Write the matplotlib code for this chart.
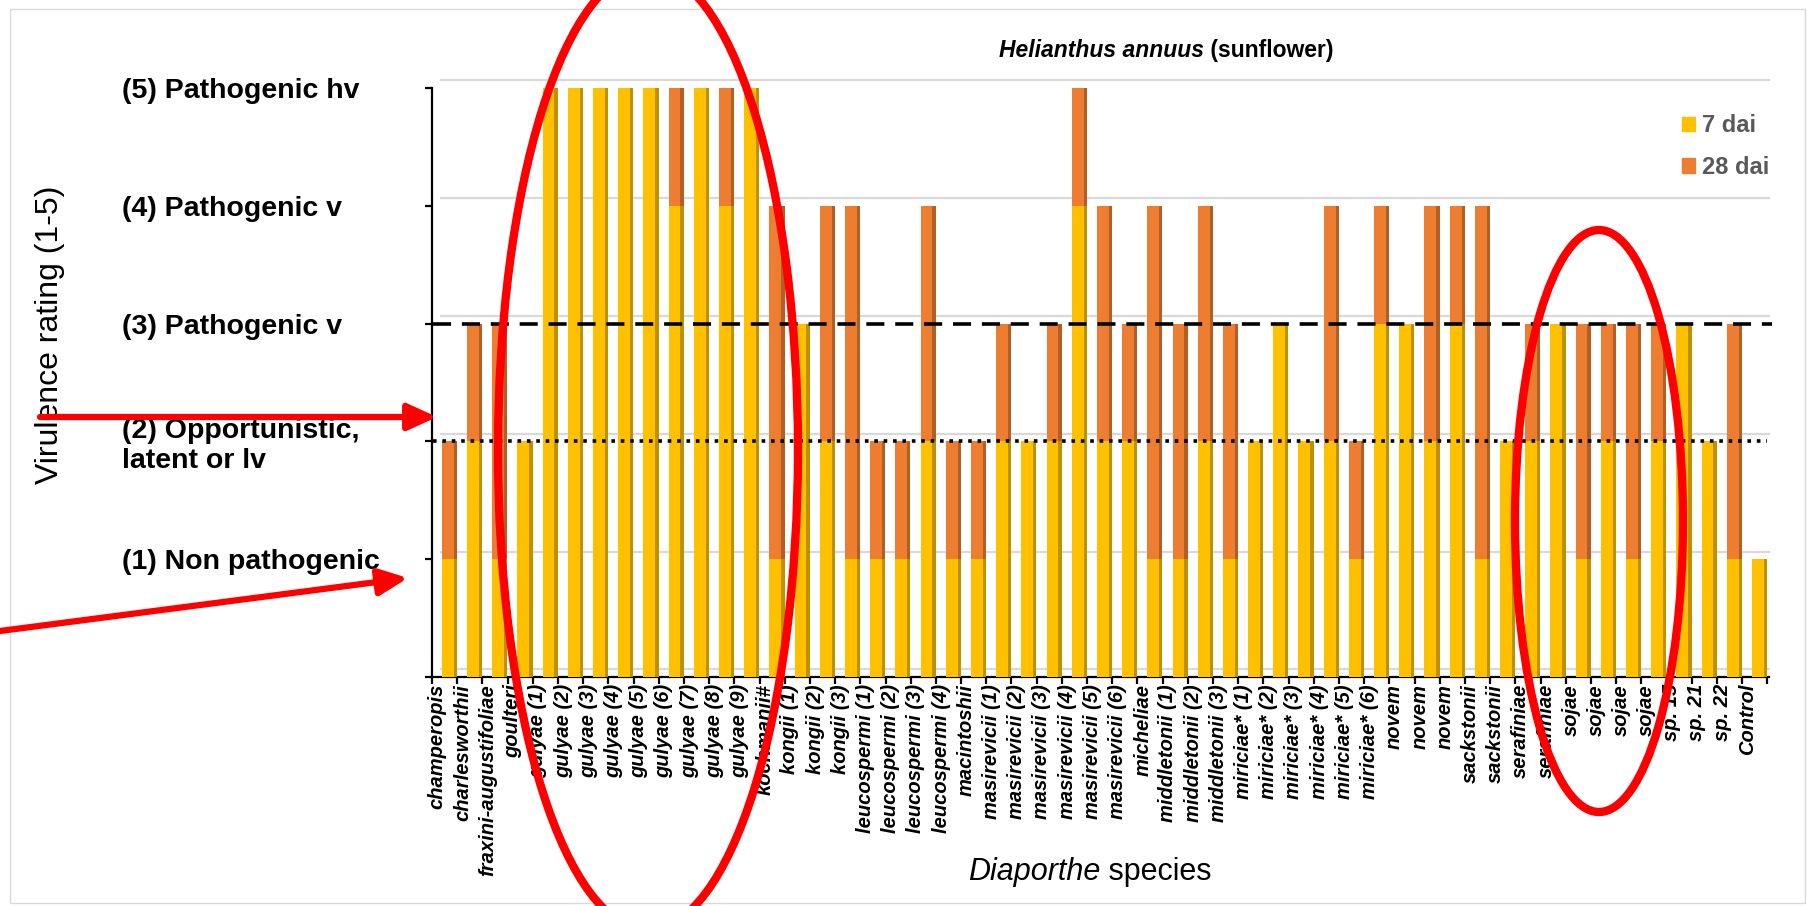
import matplotlib
matplotlib.use('Agg')
import matplotlib.pyplot as plt
from matplotlib.patches import Ellipse, FancyArrowPatch, Rectangle, Patch
from matplotlib import font_manager
import numpy as np

# Diaporthe isolates and virulence ratings (1-5) on sunflower
species = ['champeropis', 'charlesworthii', 'fraxini-augustifoliae', 'goulteri',
           'gulyae (1)', 'gulyae (2)', 'gulyae (3)', 'gulyae (4)', 'gulyae (5)',
           'gulyae (6)', 'gulyae (7)', 'gulyae (8)', 'gulyae (9)', 'kochmanii#',
           'kongii (1)', 'kongii (2)', 'kongii (3)',
           'leucospermi (1)', 'leucospermi (2)', 'leucospermi (3)', 'leucospermi (4)',
           'macintoshii',
           'masirevicii (1)', 'masirevicii (2)', 'masirevicii (3)', 'masirevicii (4)',
           'masirevicii (5)', 'masirevicii (6)', 'micheliae',
           'middletonii (1)', 'middletonii (2)', 'middletonii (3)',
           'miriciae* (1)', 'miriciae* (2)', 'miriciae* (3)', 'miriciae* (4)',
           'miriciae* (5)', 'miriciae* (6)',
           'novem', 'novem', 'novem', 'sackstonii', 'sackstonii',
           'serafiniae', 'serafiniae', 'sojae', 'sojae', 'sojae', 'sojae',
           'sp. 15', 'sp. 21', 'sp. 22', 'Control']
dai7 = [1, 2, 1, 2, 5, 5, 5, 5, 5, 4, 5, 4, 5, 1, 3, 2, 1,
        1, 1, 2, 1, 1, 2, 2, 2, 4, 2, 2, 1, 1, 2, 1,
        2, 3, 2, 2, 1, 3, 3, 2, 3, 1, 2, 2, 3, 1, 2, 1, 2,
        3, 2, 1, 1]
dai28 = [2, 3, 3, 2, 5, 5, 5, 5, 5, 5, 5, 5, 5, 4, 3, 4, 4,
         2, 2, 4, 2, 2, 3, 2, 3, 5, 4, 3, 4, 3, 4, 3,
         2, 3, 2, 4, 2, 4, 3, 4, 4, 4, 2, 3, 3, 3, 3, 3, 3,
         3, 2, 3, 1]
rating_ticks = [0, 1, 2, 3, 4, 5]
rating_labels = ['', '(1) Non pathogenic', '(2) Opportunistic,\nlatent or lv',
                 '(3) Pathogenic v', '(4) Pathogenic v', '(5) Pathogenic hv']

W, H = 1807, 906
YEL, YEL_SIDE = '#FFC000', '#BF9000'
ORA, ORA_SIDE = '#ED7D31', '#B35E22'

names = {f.name for f in font_manager.fontManager.ttflist}
narrow = 'Liberation Sans Narrow' in names
plt.rcParams['font.family'] = ['Liberation Sans', 'DejaVu Sans']

fig = plt.figure(figsize=(W / 100, H / 100), dpi=100)
ax = fig.add_axes([432 / W, 1 - 677 / H, (1769 - 432) / W, (677 - 88) / H])

x = np.arange(len(species))
front = 0.47
side = 0.13
# back wall gridlines (3D look)
for k in rating_ticks:
    ax.plot([-0.25, 52.45], [k + 0.065, k + 0.065], color='#D9D9D9', lw=1.6,
            zorder=0, clip_on=False)

ax.bar(x, dai28, width=front, color=ORA, zorder=2)
ax.bar(x + front / 2 + side / 2, dai28, width=side, color=ORA_SIDE, zorder=2)
ax.bar(x, dai7, width=front, color=YEL, zorder=3, label='7 dai')
ax.bar(x + front / 2 + side / 2, dai7, width=side, color=YEL_SIDE, zorder=3)

ax.plot([-0.6, 52.55], [3, 3], color='black', lw=2.6, ls=(0, (5, 3)), zorder=5, clip_on=False)
ax.plot([-0.6, 52.35], [2, 2], color='black', lw=2.6, ls=(0, (1, 1.6)), zorder=5, clip_on=False)

ax.set_xlim(-0.627, 52.44)
ax.set_ylim(0, 5)
for s in ['top', 'right']:
    ax.spines[s].set_visible(False)
ax.spines['left'].set_linewidth(1.6)
ax.spines['bottom'].set_linewidth(1.6)

ax.set_yticks(rating_ticks, rating_labels)
ax.tick_params(axis='y', length=5, width=1.6, pad=218)
for lab in ax.get_yticklabels():
    lab.set_ha('left')
    lab.set_fontsize(20.5)
    lab.set_fontweight('bold')
    lab.set_multialignment('left')

ax.set_xticks(x - 0.42, species)
ax.set_xticks(np.arange(len(species) + 1) - 0.627, minor=True)
ax.tick_params(axis='x', which='major', length=0, pad=5)
ax.tick_params(axis='x', which='minor', length=5, width=1.6)
xfam = ['Liberation Sans Narrow', 'Liberation Sans'] if narrow else ['Liberation Sans']
for lab in ax.get_xticklabels():
    lab.set_rotation(90)
    lab.set_va('top')
    lab.set_ha('center')
    lab.set_fontsize(17.5 if narrow else 14.5)
    lab.set_fontweight('bold')
    lab.set_fontstyle('italic')
    lab.set_family(xfam)

handles = [Patch(color=YEL, label='7 dai'), Patch(color=ORA, label='28 dai')]
leg = ax.legend(handles=handles, loc='upper left', bbox_to_anchor=(1682 / W, 1 - 114 / H),
                bbox_transform=fig.transFigure, frameon=False, fontsize=17,
                handlelength=0.55, handleheight=0.55, handletextpad=0.3,
                labelspacing=0.8, borderpad=0, borderaxespad=0)
for t in leg.get_texts():
    t.set_color('#595959')
    t.set_fontweight('bold')

# titles
fig.text(1204 / W, 1 - 57 / H, 'Helianthus annuus', fontsize=16.5, style='italic',
         weight='bold', ha='right', va='baseline')
fig.text(1204 / W, 1 - 57 / H, ' (sunflower)', fontsize=16.5, weight='bold',
         ha='left', va='baseline')
fig.text(1100 / W, 1 - 880 / H, 'Diaporthe', fontsize=22, style='italic',
         ha='right', va='baseline')
fig.text(1100 / W, 1 - 880 / H, ' species', fontsize=22, ha='left', va='baseline')
fig.text(50 / W, 1 - 335 / H, 'Virulence rating (1-5)', rotation=90,
         fontsize=26 if narrow else 23, family=xfam, ha='center', va='center')

# chart border
fig.add_artist(Rectangle((10 / W, 1 - 903 / H), 1795 / W, 894 / H, transform=fig.transFigure,
                         fill=False, ec='#D9D9D9', lw=1))

# red highlight annotations
fig.add_artist(Ellipse((648 / W, 1 - 450 / H), 300 / W, 960 / H, transform=fig.transFigure,
                       fill=False, ec='red', lw=6, zorder=10))
fig.add_artist(Ellipse((1599 / W, 1 - 521 / H), 168 / W, 582 / H, transform=fig.transFigure,
                       fill=False, ec='red', lw=6, zorder=10))
for (x0, y0), (x1, y1) in [((40, 417), (437, 417)), ((0, 631), (408, 578))]:
    fig.add_artist(FancyArrowPatch((x0 / W, 1 - y0 / H), (x1 / W, 1 - y1 / H),
                                   transform=fig.transFigure, color='red', lw=4.5,
                                   arrowstyle='-|>,head_length=0.7,head_width=0.32',
                                   mutation_scale=25, shrinkA=0, shrinkB=0, zorder=10))

fig.savefig('out.png', dpi=100)
